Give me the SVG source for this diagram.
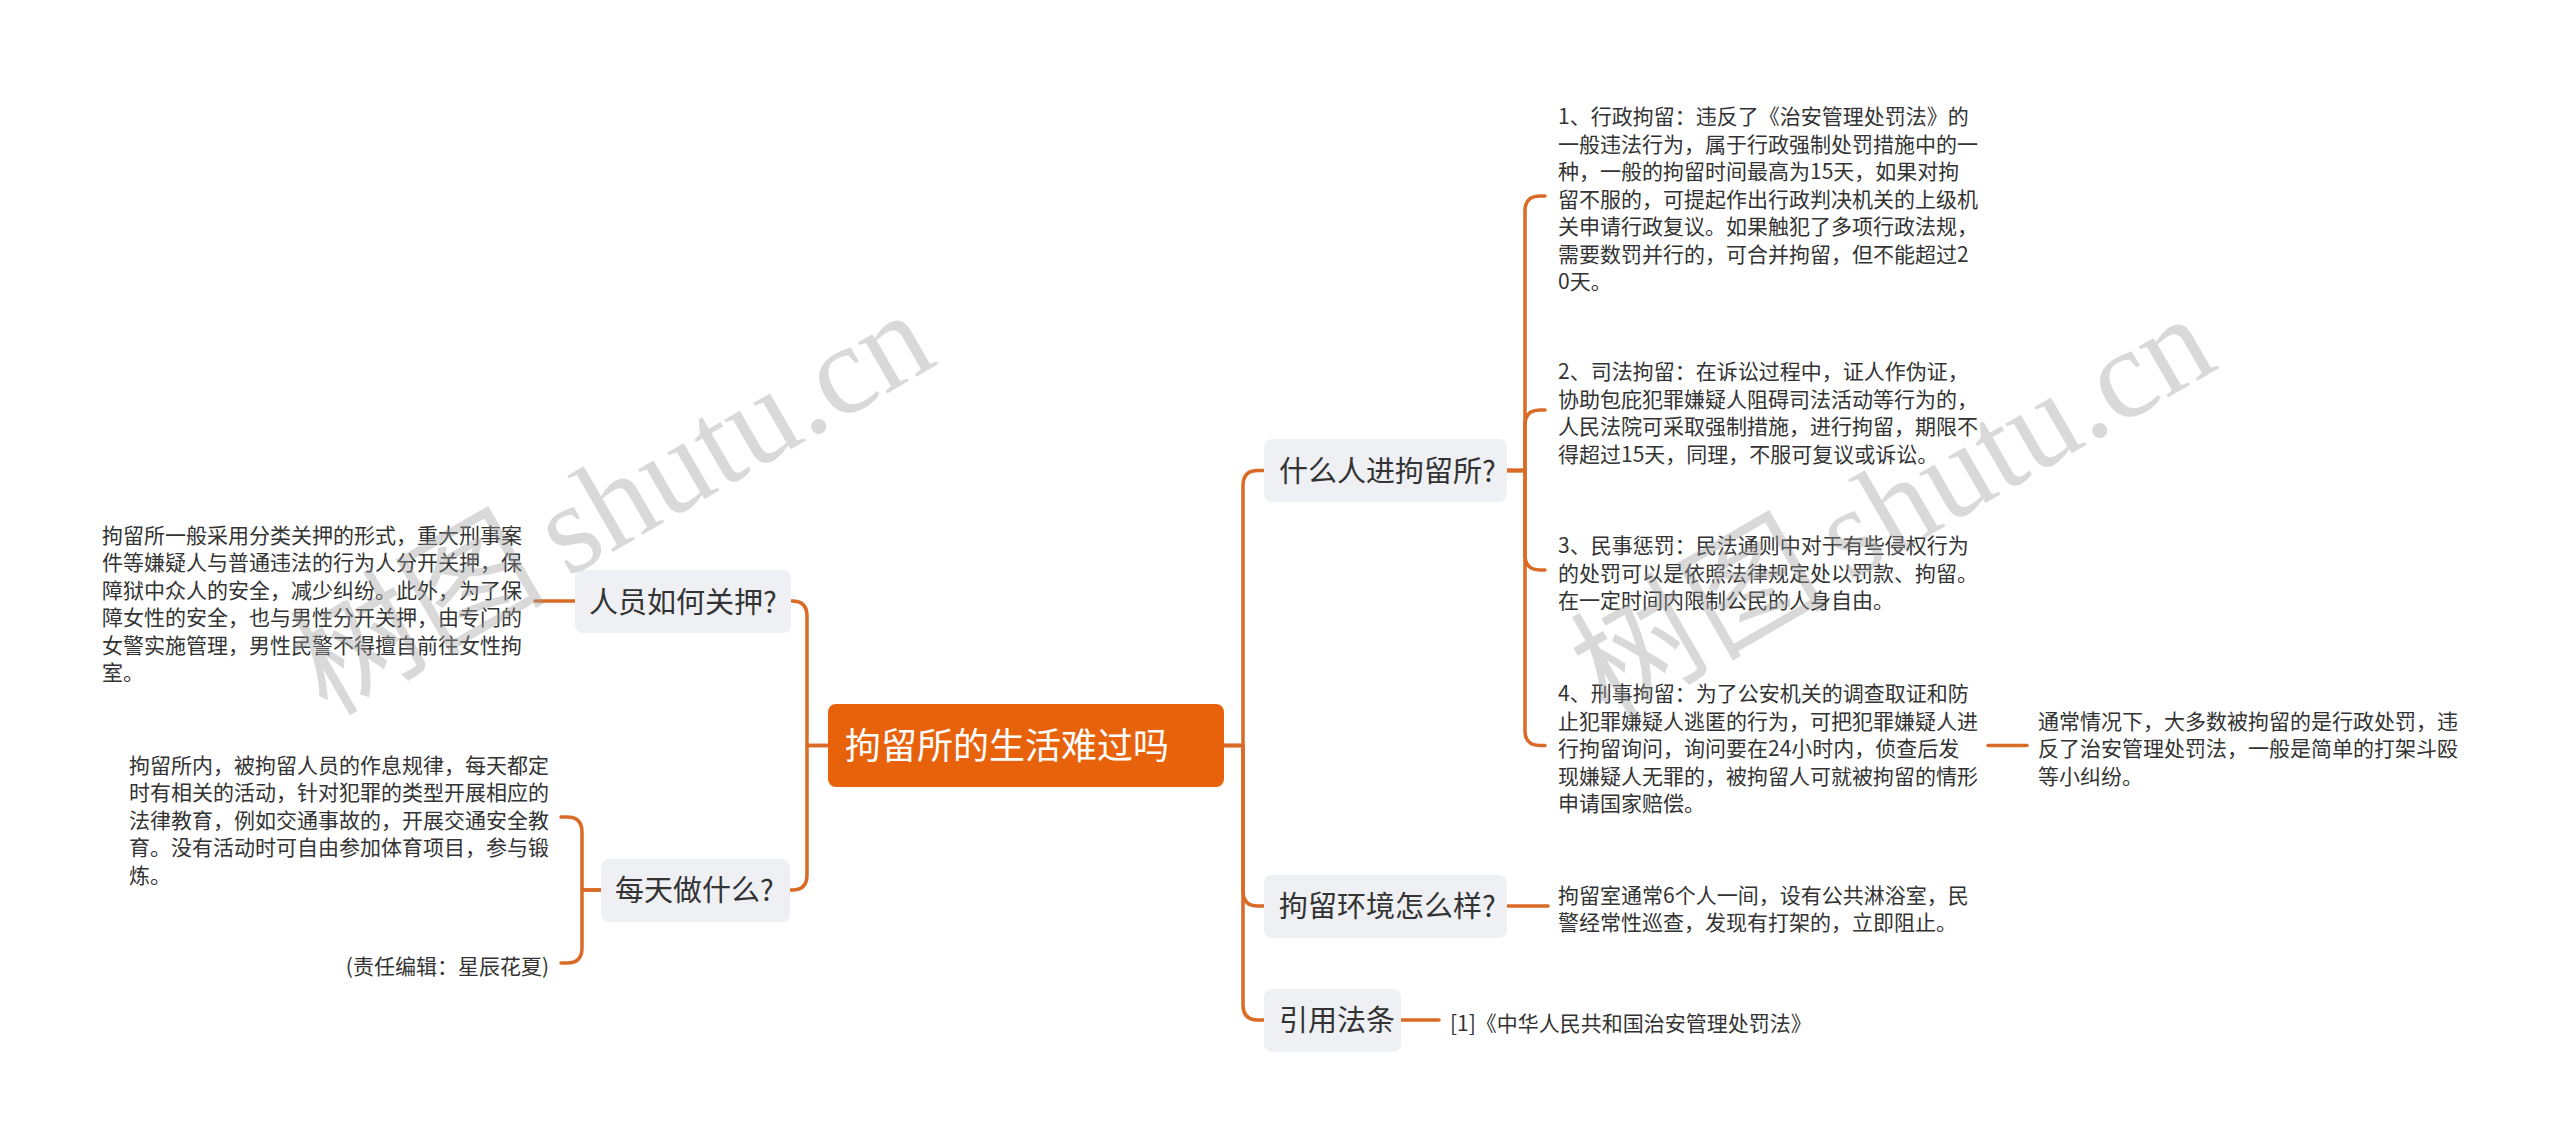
<svg xmlns="http://www.w3.org/2000/svg" width="2560" height="1143" viewBox="0 0 2560 1143">
<style>
.bg{fill:#ffffff}
.link{fill:none;stroke:#da6b26;stroke-width:3.5;stroke-linecap:round;stroke-linejoin:round}
.box{fill:#eef0f3}
.root{fill:#e8620c}
.nt{font-family:"Noto Sans CJK SC","Liberation Sans",sans-serif;font-size:29px;fill:#333333}
.rt{font-family:"Noto Sans CJK SC","Liberation Sans",sans-serif;font-size:36px;fill:#ffffff}
.tx{font-family:"Noto Sans CJK SC","Liberation Sans",sans-serif;font-size:21px;fill:#333333}
.wm{font-size:128px;fill:#9a9a9a;fill-opacity:0.38}
</style>
<rect class="bg" x="0" y="0" width="2560" height="1143"/>
<g id="connectors">
<path class="link" d="M1224,745.5 H1243 V485.5 Q1243,470.5 1258,470.5 H1264"/>
<path class="link" d="M1224,745.5 H1243 V891 Q1243,906 1258,906 H1264"/>
<path class="link" d="M1224,745.5 H1243 V1005 Q1243,1020 1258,1020 H1264"/>
<path class="link" d="M828,745.5 H807 V616 Q807,601 792,601 H791"/>
<path class="link" d="M828,745.5 H807 V875 Q807,890 792,890 H790"/>
<path class="link" d="M1507,470.5 H1525 V211 Q1525,196 1540,196 H1545"/>
<path class="link" d="M1507,470.5 H1525 V425 Q1525,410 1540,410 H1545"/>
<path class="link" d="M1507,470.5 H1525 V555 Q1525,570 1540,570 H1545"/>
<path class="link" d="M1507,470.5 H1525 V730.5 Q1525,745.5 1540,745.5 H1545"/>
<path class="link" d="M1988,745.5 H2027"/>
<path class="link" d="M1507,906 H1548"/>
<path class="link" d="M1401,1020 H1439"/>
<path class="link" d="M575,601 H535"/>
<path class="link" d="M601,890 H582 V832 Q582,817 567,817 H561"/>
<path class="link" d="M601,890 H582 V948 Q582,963 567,963 H561"/>
</g>
<g id="root">
<rect class="root" x="828" y="704" width="396" height="83" rx="8"/>
<text class="rt" x="845" y="759">拘留所的生活难过吗</text>
</g>
<g id="n-who">
<rect class="box" x="1264" y="439" width="243" height="63" rx="8"/>
<text class="nt" x="1279" y="481.5">什么人进拘留所?</text>
</g>
<g id="n-env">
<rect class="box" x="1264" y="875" width="243" height="63" rx="8"/>
<text class="nt" x="1279" y="917">拘留环境怎么样?</text>
</g>
<g id="n-law">
<rect class="box" x="1264" y="989" width="137" height="63" rx="8"/>
<text class="nt" x="1279" y="1031">引用法条</text>
</g>
<g id="n-hold">
<rect class="box" x="575" y="570" width="216" height="63" rx="8"/>
<text class="nt" x="589" y="612.5">人员如何关押?</text>
</g>
<g id="n-daily">
<rect class="box" x="601" y="859" width="189" height="63" rx="8"/>
<text class="nt" x="615" y="901">每天做什么?</text>
</g>
<g id="t-admin">
<text class="tx">
<tspan x="1558" y="124">1、行政拘留：违反了《治安管理处罚法》的</tspan>
<tspan x="1558" y="151.5">一般违法行为，属于行政强制处罚措施中的一</tspan>
<tspan x="1558" y="179">种，一般的拘留时间最高为15天，如果对拘</tspan>
<tspan x="1558" y="206.5">留不服的，可提起作出行政判决机关的上级机</tspan>
<tspan x="1558" y="234">关申请行政复议。如果触犯了多项行政法规，</tspan>
<tspan x="1558" y="261.5">需要数罚并行的，可合并拘留，但不能超过2</tspan>
<tspan x="1558" y="289">0天。</tspan>
</text>
</g>
<g id="t-judicial">
<text class="tx">
<tspan x="1558" y="379.3">2、司法拘留：在诉讼过程中，证人作伪证，</tspan>
<tspan x="1558" y="406.8">协助包庇犯罪嫌疑人阻碍司法活动等行为的，</tspan>
<tspan x="1558" y="434.3">人民法院可采取强制措施，进行拘留，期限不</tspan>
<tspan x="1558" y="461.8">得超过15天，同理，不服可复议或诉讼。</tspan>
</text>
</g>
<g id="t-civil">
<text class="tx">
<tspan x="1558" y="553">3、民事惩罚：民法通则中对于有些侵权行为</tspan>
<tspan x="1558" y="580.5">的处罚可以是依照法律规定处以罚款、拘留。</tspan>
<tspan x="1558" y="608">在一定时间内限制公民的人身自由。</tspan>
</text>
</g>
<g id="t-criminal">
<text class="tx">
<tspan x="1558" y="701">4、刑事拘留：为了公安机关的调查取证和防</tspan>
<tspan x="1558" y="728.5">止犯罪嫌疑人逃匿的行为，可把犯罪嫌疑人进</tspan>
<tspan x="1558" y="756">行拘留询问，询问要在24小时内，侦查后发</tspan>
<tspan x="1558" y="783.5">现嫌疑人无罪的，被拘留人可就被拘留的情形</tspan>
<tspan x="1558" y="811">申请国家赔偿。</tspan>
</text>
</g>
<g id="t-usual">
<text class="tx">
<tspan x="2038" y="728.5">通常情况下，大多数被拘留的是行政处罚，违</tspan>
<tspan x="2038" y="756">反了治安管理处罚法，一般是简单的打架斗殴</tspan>
<tspan x="2038" y="783.5">等小纠纷。</tspan>
</text>
</g>
<g id="t-room">
<text class="tx">
<tspan x="1558" y="902.8">拘留室通常6个人一间，设有公共淋浴室，民</tspan>
<tspan x="1558" y="930.3">警经常性巡查，发现有打架的，立即阻止。</tspan>
</text>
</g>
<g id="t-ref">
<text class="tx" x="1450" y="1030.5">[1]《中华人民共和国治安管理处罚法》</text>
</g>
<g id="t-hold">
<text class="tx">
<tspan x="102" y="542.8">拘留所一般采用分类关押的形式，重大刑事案</tspan>
<tspan x="102" y="570.3">件等嫌疑人与普通违法的行为人分开关押，保</tspan>
<tspan x="102" y="597.8">障狱中众人的安全，减少纠纷。此外，为了保</tspan>
<tspan x="102" y="625.3">障女性的安全，也与男性分开关押，由专门的</tspan>
<tspan x="102" y="652.8">女警实施管理，男性民警不得擅自前往女性拘</tspan>
<tspan x="102" y="680.3">室。</tspan>
</text>
</g>
<g id="t-daily">
<text class="tx">
<tspan x="129" y="772.5">拘留所内，被拘留人员的作息规律，每天都定</tspan>
<tspan x="129" y="800">时有相关的活动，针对犯罪的类型开展相应的</tspan>
<tspan x="129" y="827.5">法律教育，例如交通事故的，开展交通安全教</tspan>
<tspan x="129" y="855">育。没有活动时可自由参加体育项目，参与锻</tspan>
<tspan x="129" y="882.5">炼。</tspan>
</text>
</g>
<g id="t-editor">
<text class="tx" x="549" y="973.5" text-anchor="end">(责任编辑：星辰花夏)</text>
</g>
<g id="watermark">
<text class="wm" transform="translate(940,363) rotate(-30)" text-anchor="end"><tspan font-family="Noto Sans CJK SC, sans-serif">树图</tspan><tspan font-family="Liberation Serif, serif" dx="22">shutu.cn</tspan></text>
<text class="wm" transform="translate(2221,367) rotate(-30)" text-anchor="end"><tspan font-family="Noto Sans CJK SC, sans-serif">树图</tspan><tspan font-family="Liberation Serif, serif" dx="22">shutu.cn</tspan></text>
</g>
</svg>
